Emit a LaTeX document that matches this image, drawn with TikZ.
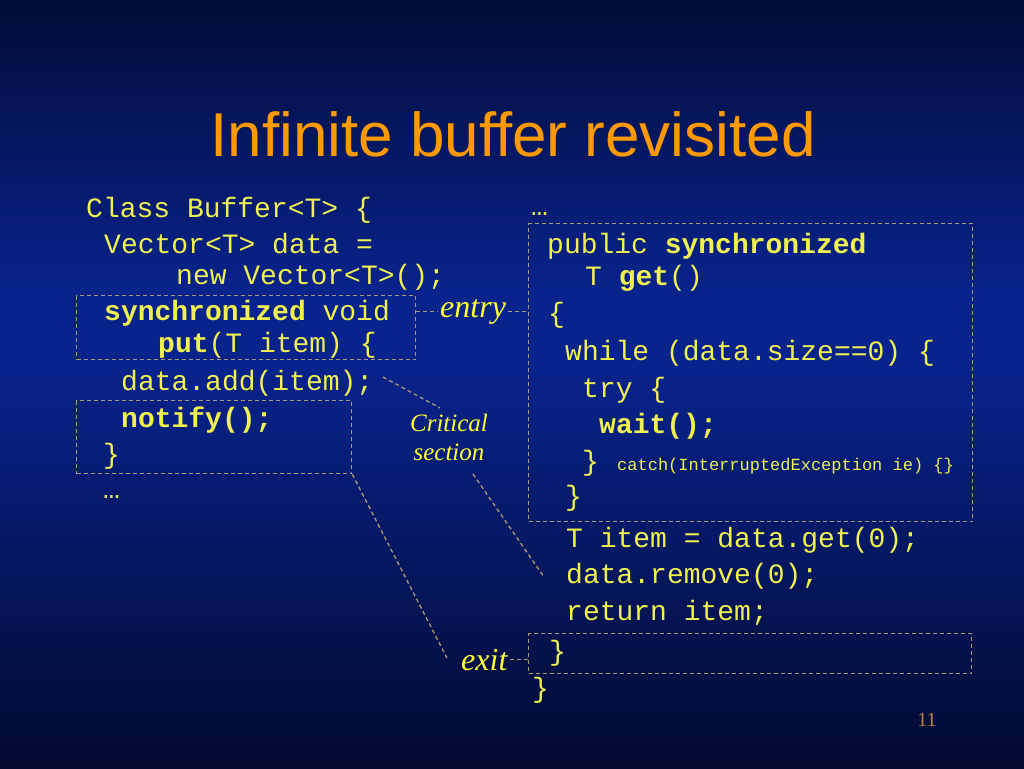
\documentclass[tikz,border=0pt]{standalone}
\usepackage{fontspec}
\setmainfont{Liberation Serif}
\newfontfamily\codefont{Liberation Mono}
\newfontfamily\headfont{Liberation Sans}
\definecolor{bgtop}{HTML}{020C38}
\definecolor{bgmid}{HTML}{08238C}
\definecolor{bgbot}{HTML}{010A30}
\definecolor{codeyellow}{HTML}{F0F050}
\definecolor{lblyellow}{HTML}{FFFF33}
\definecolor{titleorange}{HTML}{FF9900}
\definecolor{dashtan}{HTML}{B09872}
\definecolor{pagetan}{HTML}{C0843C}
\pgfdeclareverticalshading{slidebg}{100bp}{color(0bp)=(bgbot); color(25bp)=(bgbot); color(51bp)=(bgmid); color(56bp)=(bgmid); color(75bp)=(bgtop); color(100bp)=(bgtop)}
\tikzset{
  code/.style={anchor=base west, inner sep=0pt, text=codeyellow, font=\codefont\fontsize{28}{34}\selectfont},
  small code/.style={code, font=\codefont\fontsize{17}{20}\selectfont},
  lbl/.style={text=lblyellow, inner sep=2pt, font=\itshape\fontsize{32}{36}\selectfont},
  dashline/.style={draw=dashtan, line width=1.3pt, dash pattern=on 4pt off 3pt},
  box/.style={dashline, anchor=north west, inner sep=0pt}
}
\begin{document}
\begin{tikzpicture}[x=1pt, y=-1pt]
\useasboundingbox (0,0) rectangle (1024,768);
\shade[shading=slidebg] (0,0) rectangle (1024,768);
% title
\node[anchor=base, inner sep=0pt, text=titleorange, font=\headfont\fontsize{62}{70}\selectfont] (title) at (513,156) {Infinite buffer revisited};
% dashed boxes
\node[box, minimum width=339, minimum height=64] (entrybox) at (76,295) {};
\node[box, minimum width=275, minimum height=73] (notifybox) at (76,400) {};
\node[box, minimum width=444, minimum height=298] (getbox) at (528,223) {};
\node[box, minimum width=443, minimum height=40] (exitbox) at (528,633) {};
% class and put
\node[code] (cls) at (86,217) {Class Buffer<T> \{};
\node[code] (vec) at (104,253) {Vector<T> data =};
\node[code] (newvec) at (176,284) {new Vector<T>();};
\node[code] (sync) at (104,320) {\textbf{synchronized} void};
\node[code] (put) at (158,352) {\textbf{put}(T item) \{};
\node[code] (add) at (121,390) {data.add(item);};
\node[code] (notify) at (121,427) {\textbf{notify();}};
\node[code] (putend) at (103,463) {\}};
\node[code] (dotsl) at (103,498) {…};
% get
\node[code] (dotsr) at (531,215) {…};
\node[code] (pub) at (547,253) {public \textbf{synchronized}};
\node[code] (get) at (585,285) {T \textbf{get}()};
\node[code] (getbeg) at (548,322) {\{};
\node[code] (while) at (565,360) {while (data.size==0) \{};
\node[code] (try) at (582,397) {try \{};
\node[code] (wait) at (599,433) {\textbf{wait();}};
\node[code] (tryend) at (582,470) {\}};
\node[small code] (catch) at (617,470) {catch(InterruptedException ie) \{\}};
\node[code] (whileend) at (565,505) {\}};
\node[code] (item) at (566,547) {T item = data.get(0);};
\node[code] (remove) at (566,583) {data.remove(0);};
\node[code] (ret) at (566,620) {return item;};
\node[code] (getend) at (549,660) {\}};
\node[code] (clsend) at (532,697) {\}};
% labels
\node[lbl, anchor=base west] (entry) at (438,317) {entry};
\node[lbl, anchor=base west] (exit) at (459,670) {exit};
\node[lbl, align=center, font=\itshape\fontsize{25}{29}\selectfont] (crit) at (449,437) {Critical\\section};
\node[anchor=base, inner sep=0pt, text=pagetan, font=\fontsize{20}{24}\selectfont] (pageno) at (927,726) {11};
% connectors
\coordinate (critA) at (383,377);
\coordinate (critB) at (440,408);
\coordinate (critC) at (473,474);
\coordinate (critD) at (544,577);
\coordinate (exitend) at (447,658);
\draw[dashline] (entrybox.east |- entry.west) -- (entry.west);
\draw[dashline] (entry.east) -- (getbox.west |- entry.east);
\draw[dashline] (exit.east) -- (exitbox.west |- exit.east);
\draw[dashline] (notifybox.south east) -- (exitend);
\draw[dashline] (critA) -- (critB);
\draw[dashline] (critC) -- (critD);
\end{tikzpicture}
\end{document}
